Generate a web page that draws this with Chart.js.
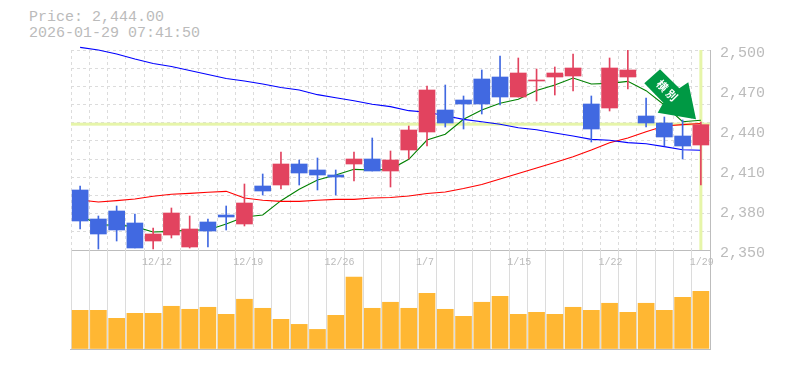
<!DOCTYPE html>
<html>
	<head>
		<title>Price</title>
		<script src="https://cdn.jsdelivr.net/npm/chart.js@4"></script>
		<style>
			html, body { margin: 0; background: #fff; }
			canvas { position: absolute; left: 0; }
			#info { position: absolute; left: 29px; top: 10px; color: #bbb; font: 15px/16px "Liberation Mono", monospace; white-space: pre; }
		</style>
	</head>
	<body>
		<div id="info">Price: 2,444.00
2026-01-29 07:41:50</div>
		<canvas id="priceChart" style="top:0"></canvas>
		<canvas id="volumeChart" style="top:250px"></canvas>
		<script>
			const dates = ["12/8","12/9","12/10","12/11","12/12","12/15","12/16","12/17","12/18","12/19","12/22","12/23","12/24","12/25","12/26","12/29","12/30","1/5","1/6","1/7","1/8","1/9","1/13","1/14","1/15","1/16","1/19","1/20","1/21","1/22","1/23","1/26","1/27","1/28","1/29"];
			const open = [2395,2373.25,2379.25,2370.25,2356.75,2361.25,2352.25,2371,2376.25,2369.5,2398,2398.75,2414.5,2410,2406.25,2414.5,2418.25,2409.25,2425,2438.5,2455,2462.5,2478.25,2479.75,2464.75,2476.75,2479.75,2480.5,2459.5,2456.5,2479.75,2450.5,2445.25,2435.5,2428.75];
			const close = [2371.75,2362,2365,2351.5,2362,2377.75,2365.75,2364.25,2374.75,2385.25,2394.25,2414.5,2407.75,2406.25,2404.75,2418.25,2409.25,2417.5,2440,2470,2445.25,2459.5,2459.5,2464.75,2482.75,2477.5,2482.75,2486.5,2440.75,2486.5,2485,2445.25,2434.75,2428,2444];
			const high = [2398,2375.5,2383,2377,2366.5,2381.5,2375.5,2373.25,2383,2399.5,2407,2423.5,2417.5,2419,2410,2423.5,2434,2424.25,2443,2473,2473.75,2465.5,2485,2495.5,2494,2485.75,2487.25,2497,2465.5,2494,2500,2464,2449.75,2447.5,2446];
			const low = [2365.75,2350.75,2356.75,2351.5,2350.75,2359,2351.5,2352.25,2365,2368,2391.25,2395.75,2398.75,2395,2391.25,2401.75,2409.25,2397.25,2418.25,2428,2442.25,2440.75,2452,2458.75,2464.75,2461.75,2466.25,2469.25,2431,2454.25,2470.75,2442.25,2428,2418.25,2398.75];
			const maLong = [2502,2500,2497,2493.25,2489.9,2487.6,2484.6,2481.6,2478.6,2476.75,2474.5,2471.9,2470,2466.5,2464.2,2462,2459.3,2457.5,2454.5,2453.3,2450.7,2448,2446.2,2444.3,2441.7,2440.2,2437.75,2435.5,2433,2432.3,2430.5,2429.7,2427.5,2425.2,2424.8];
			const maMid = [2387.5,2386,2387,2388.25,2390.3,2391.8,2392.5,2393.3,2394,2389,2387.3,2386.5,2386.5,2387.3,2388,2388,2389,2389.4,2390.5,2392.4,2393.5,2396.1,2399.1,2403.25,2407.4,2411.5,2415.6,2420,2425,2430.5,2434,2438.75,2443,2444,2444.9];
			const maShort = [2376.25,2368.75,2368.75,2367.5,2363.5,2364,2365,2365,2369.5,2374.75,2376.25,2387,2395.5,2402.5,2406.25,2410.5,2410,2410.5,2418,2432.5,2436.8,2448,2455,2460,2463,2469.6,2473.75,2479,2474.5,2475,2476.5,2469.5,2458.75,2446.2,2447.3];
			const volume = [38,38,30,35,35,42,39,41,34,49,40,29,24,19,33,71,40,46,40,55,39,32,46,52,34,36,34,41,38,45,36,45,38,51,57];
			const priceTicks = [2350,2380,2410,2440,2470,2500];
			const lastPrice = 2444;
			const signText = "横別";

			const UP = '#e2435f', DOWN = '#4169e1', GRID = '#dcdcdc', AXIS = '#bdbdbd', MARK = '#e6f5a9';
			const candleColors = open.map((o, i) => close[i] >= o ? UP : DOWN);
			const axisWidth = 75;
			const dash = [3, 3];

			function lineSet(data, color) {
				return { type: 'line', data: data, borderColor: color, borderWidth: 1.1, pointRadius: 0, tension: 0, clip: false, order: 3 };
			}

			// current price marker and the sign arrow
			const marks = {
				id: 'marks',
				beforeDatasetsDraw(chart) {
					const { ctx, chartArea: a, scales } = chart;
					const y = scales.y.getPixelForValue(lastPrice);
					const x = scales.x.getPixelForValue(dates.length - 1);
					ctx.save();
					ctx.fillStyle = MARK;
					ctx.fillRect(a.left, y - 2, a.right - a.left, 3);
					ctx.fillRect(x - 1.5, a.top, 3, a.bottom - a.top);
					ctx.restore();
				},
				afterDraw(chart) {
					const ctx = chart.ctx;
					const pts = [[660, 69.3], [679.3, 88.3], [688.3, 82.3], [696, 119.3], [657.7, 112.7], [663.3, 102.7], [644.3, 83.3]];
					ctx.save();
					ctx.fillStyle = '#009944';
					ctx.beginPath();
					pts.forEach((p, i) => i ? ctx.lineTo(p[0], p[1]) : ctx.moveTo(p[0], p[1]));
					ctx.closePath();
					ctx.fill();
					ctx.translate(667, 90.5);
					ctx.rotate(Math.PI / 4);
					ctx.fillStyle = '#fff';
					ctx.font = 'bold 11px "Noto Sans CJK JP"';
					ctx.textAlign = 'center';
					ctx.textBaseline = 'middle';
					ctx.fillText(signText[0], -6.7, 0);
					ctx.fillText(signText[1], 6.7, 0);
					ctx.restore();
				}
			};

			const priceCanvas = document.getElementById('priceChart');
			priceCanvas.width = 785; priceCanvas.height = 270;
			new Chart(priceCanvas.getContext('2d'), {
				type: 'bar',
				plugins: [marks],
				data: {
					labels: dates,
					datasets: [
						lineSet(maLong, '#0000ff'),
						lineSet(maMid, '#ff0000'),
						lineSet(maShort, '#008000'),
						{ data: high.map((h, i) => [low[i], h]), backgroundColor: candleColors, barThickness: 1, grouped: false, order: 2 },
						{ data: open.map((o, i) => [o, close[i]]), backgroundColor: candleColors, barThickness: 16, grouped: false, minBarLength: 1, order: 1 }
					]
				},
				options: {
					responsive: false,
					animation: false,
					layout: { padding: { left: 71, top: 50, right: 0, bottom: 20 } },
					plugins: { legend: { display: false }, tooltip: { enabled: false } },
					scales: {
						x: {
							grid: { color: GRID, drawTicks: false, offset: true },
							border: { color: AXIS, dash: dash },
							ticks: { display: false }
						},
						y: {
							position: 'right', min: 2350, max: 2500,
							afterFit(s) { s.width = axisWidth; },
							afterBuildTicks(s) { s.ticks = priceTicks.map(v => ({ value: v })); },
							grid: { display: false },
							border: { color: AXIS },
							ticks: {
								color: '#bbb', padding: 2, labelOffset: 3,
								font: { family: '"Liberation Mono", monospace', size: 15 },
								callback: v => v.toLocaleString('en-US')
							}
						},
						yGrid: {
							position: 'right', min: 0, max: 11,
							afterFit(s) { s.width = 0; },
							grid: { color: GRID, drawTicks: false },
							border: { display: false, dash: dash },
							ticks: { display: false, stepSize: 1 }
						}
					}
				}
			});

			// x labels sit inside the volume panel, starting at the grid line
			const dateLabels = {
				id: 'dateLabels',
				afterDraw(chart) {
					const { ctx, chartArea: a, scales } = chart;
					const band = (a.right - a.left) / dates.length;
					ctx.save();
					ctx.fillStyle = '#bbb';
					ctx.font = '10px "Liberation Mono", monospace';
					ctx.textBaseline = 'middle';
					dates.forEach((d, i) => {
						if (i % 5 == 4) ctx.fillText(d, scales.x.getPixelForValue(i) - band / 2 - 2, 12);
					});
					ctx.restore();
				}
			};

			const volumeCanvas = document.getElementById('volumeChart');
			volumeCanvas.width = 785; volumeCanvas.height = 100;
			new Chart(volumeCanvas.getContext('2d'), {
				type: 'bar',
				plugins: [dateLabels],
				data: {
					labels: dates,
					datasets: [{ data: volume, backgroundColor: '#ffb733', barThickness: 16 }]
				},
				options: {
					responsive: false,
					animation: false,
					layout: { padding: { left: 71, top: 0, right: 0, bottom: 0 } },
					plugins: { legend: { display: false }, tooltip: { enabled: false } },
					scales: {
						x: {
							grid: { color: GRID, drawTicks: false, offset: true },
							border: { color: AXIS, width: 2 },
							ticks: { display: false }
						},
						y: {
							position: 'right', min: -1.5, max: 98,
							afterFit(s) { s.width = axisWidth; },
							afterBuildTicks(s) { s.ticks = [{ value: 0 }]; },
							grid: { display: false },
							border: { color: AXIS },
							ticks: { display: false }
						}
					}
				}
			});
		</script>
	</body>
</html>
